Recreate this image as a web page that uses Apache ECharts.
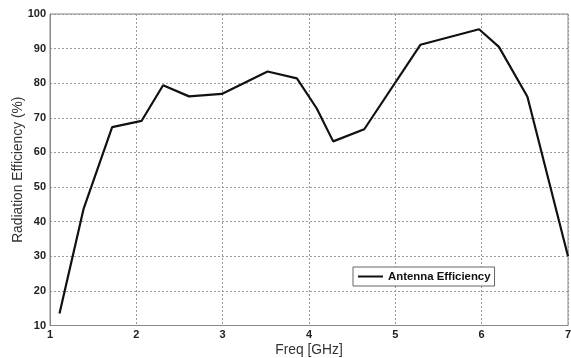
<!DOCTYPE html>
<html><head><meta charset="utf-8">
<script src="https://cdn.jsdelivr.net/npm/echarts@6/dist/echarts.min.js"></script>
<style>html,body{margin:0;padding:0;background:#fff}#c{width:571px;height:358px}</style>
</head><body><div id="c"></div>
<script>
var freq = [1.11, 1.39, 1.72, 2.06, 2.31, 2.61, 2.99, 3.52, 3.86, 4.09, 4.28, 4.64, 5.29, 5.97, 6.20, 6.53, 7.0];
var efficiency = [13.5, 43.8, 67.3, 69.1, 79.4, 76.2, 76.9, 83.4, 81.4, 72.7, 63.2, 66.7, 91.1, 95.6, 90.5, 76.1, 30.0];
var seriesName = 'Antenna Efficiency';
var data = freq.map(function(f, i){ return [f, efficiency[i]]; });
var chart = echarts.init(document.getElementById('c'));
var font = 'Liberation Sans, Arial, sans-serif';
chart.setOption({
  animation: false,
  grid: {left: 50, right: 3, top: 14, bottom: 32.5, show: true, borderColor: '#888', borderWidth: 1,
    containLabel: false, outerBoundsMode: 'none'},
  xAxis: {type: 'value', min: 1, max: 7, interval: 1, name: 'Freq [GHz]', nameLocation: 'middle', nameGap: 17.5,
    nameMoveOverlap: false,
    nameTextStyle: {fontFamily: font, fontSize: 13.8, color: '#333'},
    axisLine: {show: true, lineStyle: {color: '#888'}}, axisTick: {show: false},
    axisLabel: {fontFamily: font, fontSize: 11, fontWeight: 'bold', color: '#222', margin: 4},
    splitLine: {show: true, lineStyle: {color: '#999', type: [2, 2], width: 1}}},
  yAxis: {type: 'value', min: 10, max: 100, interval: 10, name: 'Radiation Efficiency (%)', nameLocation: 'middle', nameGap: 25,
    nameMoveOverlap: false,
    nameTextStyle: {fontFamily: font, fontSize: 13.8, color: '#333'},
    axisLine: {show: true, lineStyle: {color: '#888'}}, axisTick: {show: false},
    axisLabel: {fontFamily: font, fontSize: 11, fontWeight: 'bold', color: '#222', margin: 4},
    splitLine: {show: true, lineStyle: {color: '#999', type: [2, 2], width: 1}}},
  legend: {left: 353, top: 267, orient: 'horizontal', backgroundColor: '#fff', borderColor: '#666', borderWidth: 1,
    padding: [4, 4, 4, 5], itemWidth: 25, itemHeight: 2, itemGap: 4,
    textStyle: {fontFamily: font, fontSize: 11.4, fontWeight: 'bold', color: '#111'},
    data: [{name: seriesName, icon: 'rect'}]},
  series: [{name: seriesName, type: 'line', data: data, showSymbol: false, symbol: 'none',
    lineStyle: {color: '#111', width: 2.2}, itemStyle: {color: '#111'}}]
});
</script></body></html>
